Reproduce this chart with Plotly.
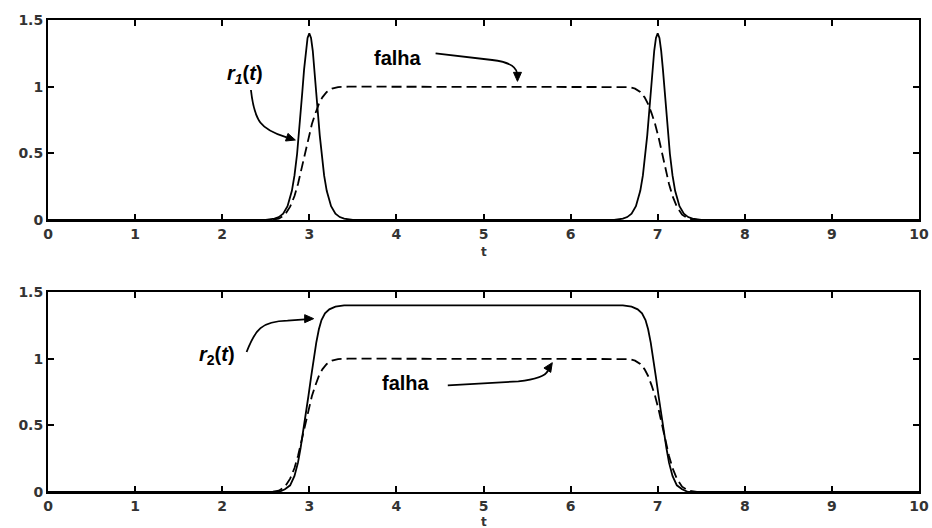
import plotly.graph_objects as go
from plotly.subplots import make_subplots

# ---------------- data ----------------
# r1(t): two narrow pulses at t=3 and t=7 (top panel, solid)
r1_t = [0.0, 2.5, 2.6, 2.65, 2.7, 2.75, 2.8, 2.83, 2.86, 2.88, 2.9, 2.92, 2.94, 2.96, 2.98, 3.0,
        3.02, 3.04, 3.06, 3.08, 3.1, 3.12, 3.14, 3.17, 3.2, 3.25, 3.3, 3.35, 3.4, 3.5,
        6.5, 6.6, 6.65, 6.7, 6.75, 6.8, 6.83, 6.86, 6.88, 6.9, 6.92, 6.94, 6.96, 6.98, 7.0,
        7.02, 7.04, 7.06, 7.08, 7.1, 7.12, 7.14, 7.17, 7.2, 7.25, 7.3, 7.35, 7.4, 7.5, 10.0]
r1_v = [0.0, 0.0, 0.01, 0.022, 0.048, 0.104, 0.219, 0.334, 0.497, 0.635, 0.793, 0.962, 1.128, 1.269, 1.366, 1.4,
        1.366, 1.269, 1.128, 0.962, 0.793, 0.635, 0.497, 0.334, 0.219, 0.104, 0.048, 0.022, 0.01, 0.0,
        0.0, 0.01, 0.022, 0.048, 0.104, 0.219, 0.334, 0.497, 0.635, 0.793, 0.962, 1.128, 1.269, 1.366, 1.4,
        1.366, 1.269, 1.128, 0.962, 0.793, 0.635, 0.497, 0.334, 0.219, 0.104, 0.048, 0.022, 0.01, 0.0, 0.0]

# falha (fault) signal: rectangular pulse of height 1 (dashed, both panels)
falha_t = [0.0, 2.55, 2.65, 2.72, 2.78, 2.83, 2.87, 2.91, 2.95, 2.99, 3.03, 3.07, 3.11, 3.15, 3.2, 3.26, 3.33, 3.45,
           6.55, 6.67, 6.74, 6.8, 6.85, 6.89, 6.93, 6.97, 7.01, 7.05, 7.09, 7.13, 7.17, 7.22, 7.28, 7.35, 7.45, 10.0]
falha_v = [0.0, 0.0, 0.01, 0.04, 0.1, 0.18, 0.27, 0.38, 0.5, 0.62, 0.72, 0.8, 0.87, 0.92, 0.96, 0.985, 0.997, 1.0,
           1.0, 0.997, 0.985, 0.96, 0.92, 0.87, 0.8, 0.72, 0.62, 0.5, 0.38, 0.27, 0.18, 0.1, 0.04, 0.01, 0.0, 0.0]

# r2(t): wide pulse of height 1.4 (bottom panel, solid)
r2_t = [0.0, 2.65, 2.72, 2.78, 2.83, 2.87, 2.9, 2.93, 2.96, 2.99, 3.02, 3.05, 3.08, 3.11, 3.14, 3.18, 3.23, 3.3, 3.4,
        6.6, 6.7, 6.77, 6.82, 6.86, 6.89, 6.92, 6.95, 6.98, 7.01, 7.04, 7.07, 7.1, 7.13, 7.17, 7.22, 7.28, 7.35, 10.0]
r2_v = [0.0, 0.0, 0.02, 0.05, 0.12, 0.22, 0.33, 0.45, 0.58, 0.72, 0.86, 1.0, 1.12, 1.22, 1.29, 1.34, 1.37, 1.39, 1.4,
        1.4, 1.39, 1.37, 1.34, 1.29, 1.22, 1.12, 1.0, 0.86, 0.72, 0.58, 0.45, 0.33, 0.22, 0.12, 0.05, 0.02, 0.0, 0.0]

x_ticks = [0, 1, 2, 3, 4, 5, 6, 7, 8, 9, 10]
y_ticks = [0, 0.5, 1, 1.5]
y_tick_labels = ["0", "0.5", "1", "1.5"]
x_title = "t"

# ---------------- figure ----------------
fig = make_subplots(rows=2, cols=1, vertical_spacing=0.1525)

line_solid = dict(color="black", width=1.8)
line_dash = dict(color="black", width=1.8, dash="10px,5px")

fig.add_trace(go.Scatter(x=r1_t, y=r1_v, mode="lines", line=line_solid, showlegend=False), row=1, col=1)
fig.add_trace(go.Scatter(x=falha_t, y=falha_v, mode="lines", line=line_dash, showlegend=False), row=1, col=1)
fig.add_trace(go.Scatter(x=r2_t, y=r2_v, mode="lines", line=line_solid, showlegend=False), row=2, col=1)
fig.add_trace(go.Scatter(x=falha_t, y=falha_v, mode="lines", line=line_dash, showlegend=False), row=2, col=1)

tick_font = dict(family="DejaVu Sans, sans-serif", size=14, color="#333", weight="bold")
axis_common = dict(showline=True, linecolor="black", linewidth=2, mirror="allticks",
                   ticks="inside", ticklen=6, tickwidth=2, tickcolor="black",
                   showgrid=False, zeroline=False, tickfont=tick_font, automargin=False)

for r in (1, 2):
    fig.update_xaxes(range=[0, 10], tickvals=x_ticks, ticktext=[str(v) for v in x_ticks],
                     row=r, col=1, **axis_common)
    fig.update_yaxes(range=[0, 1.5], tickvals=y_ticks, ticktext=y_tick_labels,
                     row=r, col=1, **axis_common)

# axis titles "t" under each panel
title_font = dict(family="DejaVu Sans, sans-serif", size=12, color="#333", weight="bold")
fig.add_annotation(x=0.5, y=0, xref="x domain", yref="y domain", yshift=-32, yanchor="middle",
                   showarrow=False, font=title_font, text=x_title)
fig.add_annotation(x=0.5, y=0, xref="x2 domain", yref="y2 domain", yshift=-30, yanchor="middle",
                   showarrow=False, font=title_font, text=x_title)

# ---------------- annotations (curved arrows with filled heads) ----------------
lab_font = dict(family="Liberation Sans, Arial, sans-serif", size=20, color="black")
arrow_line = dict(color="black", width=1.8)
head_line = dict(color="black", width=1)

# top panel: r1(t)
fig.add_annotation(x=2.26, y=1.09, xref="x", yref="y", showarrow=False, font=lab_font,
                   text="<b><i>r</i></b><sub><b><i>1</i></b></sub><b>(<i>t</i>)</b>")
fig.add_shape(type="path", xref="x", yref="y", line=arrow_line,
              path="M 2.33,0.975 C 2.37,0.74 2.44,0.68 2.74,0.62")
fig.add_shape(type="path", xref="x", yref="y", line=head_line, fillcolor="black",
              path="M 2.84,0.60 L 2.727,0.5925 L 2.755,0.6495 Z")

# top panel: falha
fig.add_annotation(x=4.02, y=1.215, xref="x", yref="y", showarrow=False, font=lab_font, text="<b>falha</b>")
fig.add_shape(type="path", xref="x", yref="y", line=arrow_line,
              path="M 4.45,1.25 L 5.1,1.2 Q 5.37,1.18 5.385,1.1")
fig.add_shape(type="path", xref="x", yref="y", line=head_line, fillcolor="black",
              path="M 5.39,1.04 L 5.344,1.1075 L 5.436,1.1075 Z")

# bottom panel: r2(t)
fig.add_annotation(x=1.94, y=1.02, xref="x2", yref="y2", showarrow=False, font=lab_font,
                   text="<b><i>r</i></b><sub><b>2</b></sub><b>(<i>t</i>)</b>")
fig.add_shape(type="path", xref="x2", yref="y2", line=arrow_line,
              path="M 2.28,1.05 C 2.38,1.22 2.45,1.28 2.75,1.285 L 2.95,1.295")
fig.add_shape(type="path", xref="x2", yref="y2", line=head_line, fillcolor="black",
              path="M 3.05,1.30 L 2.947,1.27 L 2.947,1.33 Z")

# bottom panel: falha
fig.add_annotation(x=4.11, y=0.82, xref="x2", yref="y2", showarrow=False, font=lab_font, text="<b>falha</b>")
fig.add_shape(type="path", xref="x2", yref="y2", line=arrow_line,
              path="M 4.59,0.80 L 5.4,0.83 Q 5.70,0.85 5.74,0.91")
fig.add_shape(type="path", xref="x2", yref="y2", line=head_line, fillcolor="black",
              path="M 5.79,0.97 L 5.772,0.897 L 5.694,0.930 Z")

fig.update_layout(width=932, height=528, margin=dict(l=48, r=13, t=20, b=36),
                  paper_bgcolor="white", plot_bgcolor="white", showlegend=False)

fig.write_html("out.html")
